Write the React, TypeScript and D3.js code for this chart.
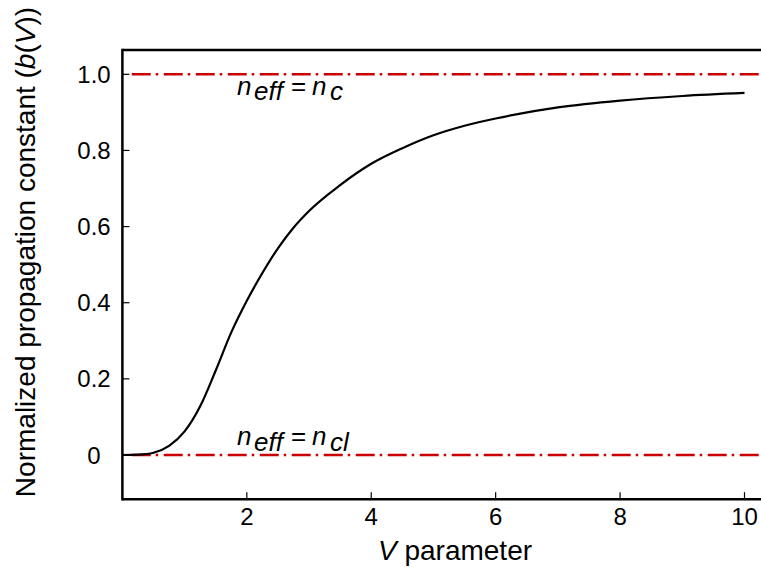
import React from "react";
import * as d3 from "d3";

// Fundamental-mode normalized propagation constant b versus V parameter
const vParam = [0, 0.25, 0.5, 0.75, 1.0, 1.25, 1.5, 1.75, 2.0, 2.25, 2.5, 2.75, 3.0, 3.5, 4.0, 4.5, 5.0, 5.5, 6.0, 7.0, 8.0, 9.0, 10.0];
const bValue = [0, 0.001, 0.006, 0.024, 0.062, 0.128, 0.222, 0.322, 0.405, 0.478, 0.543, 0.597, 0.641, 0.709, 0.765, 0.806, 0.84, 0.865, 0.884, 0.913, 0.931, 0.943, 0.951];

// Horizontal reference levels: core index (b = 1) and cladding index (b = 0)
const refLevels = [1, 0];
const refStartV = 0.15;

const xTicks = [2, 4, 6, 8, 10];
const yTicks = [0, 0.2, 0.4, 0.6, 0.8, 1.0];
const yTickLabels = ["0", "0.2", "0.4", "0.6", "0.8", "1.0"];

const W = 761;
const H = 567;
const FONT = "Arial, 'Liberation Sans', Helvetica, sans-serif";

export default function App() {
  const x = d3.scaleLinear().domain([0, 10]).range([122.4, 744.5]);
  const y = d3.scaleLinear().domain([0, 1]).range([455, 74.3]);

  const xMin = 0;
  const xMax = 10.5;
  const yMin = -0.116;
  const yMax = 1.064;

  const left = x(xMin);
  const right = x(xMax);
  const top = y(yMax);
  const bottom = y(yMin);

  const pts = vParam.map((v, i) => [v, bValue[i]] as [number, number]);
  const line = d3
    .line<[number, number]>()
    .x((d) => x(d[0]))
    .y((d) => y(d[1]))
    .curve(d3.curveMonotoneX);

  // label pieces: main "n", subscript, "=", "n", subscript
  const levelLabel = (baseY: number, sub: string, dy: number) => (
    <text y={baseY} fontSize={26} fontStyle="italic" fill="#000">
      <tspan x={237}>n</tspan>
      <tspan x={254} dy={dy}>eff</tspan>
      <tspan x={291} dy={-dy} fontStyle="normal">=</tspan>
      <tspan x={312}>n</tspan>
      <tspan x={330} dy={dy}>{sub}</tspan>
    </text>
  );

  return (
    <svg
      width={W}
      height={H}
      style={{ position: "fixed", left: 0, top: 0, background: "#fff" }}
      fontFamily={FONT}
    >
      <rect x={0} y={0} width={W} height={H} fill="#fff" />

      {/* reference levels */}
      {refLevels.map((lv) => (
        <line
          key={lv}
          x1={x(refStartV)}
          x2={right}
          y1={y(lv)}
          y2={y(lv)}
          stroke="#cc0000"
          strokeWidth={2.5}
          strokeDasharray="19 5 2.5 5.5"
        />
      ))}

      {/* b(V) curve */}
      <path d={line(pts) ?? ""} fill="none" stroke="#000" strokeWidth={2.2} strokeLinejoin="round" />

      {/* frame */}
      <line x1={left} x2={right} y1={top} y2={top} stroke="#000" strokeWidth={2.5} />
      <line x1={left} x2={right} y1={bottom} y2={bottom} stroke="#000" strokeWidth={2.5} />
      <line x1={left} x2={left} y1={top - 1.25} y2={bottom + 1.25} stroke="#000" strokeWidth={2.5} />

      {/* y ticks */}
      {yTicks.map((t, i) => (
        <g key={t}>
          <line x1={left} x2={left + 7} y1={y(t)} y2={y(t)} stroke="#000" strokeWidth={1.2} />
          <text x={94} y={y(t) + 8.6} fontSize={24} textAnchor="middle" fill="#000">
            {yTickLabels[i]}
          </text>
        </g>
      ))}

      {/* x ticks */}
      {xTicks.map((t) => (
        <g key={t}>
          <line x1={x(t)} x2={x(t)} y1={bottom} y2={bottom - 7} stroke="#000" strokeWidth={1.2} />
          <text x={x(t)} y={525} fontSize={24} textAnchor="middle" fill="#000">
            {t}
          </text>
        </g>
      ))}

      {/* level annotations */}
      {levelLabel(y(1) + 21, "c", 5)}
      {levelLabel(y(0) - 10, "cl", 6)}

      {/* axis titles */}
      <text x={455} y={560} fontSize={28} textAnchor="middle" fill="#000">
        <tspan fontStyle="italic">V</tspan> parameter
      </text>
      <text
        transform={`translate(35, 252) rotate(-90)`}
        fontSize={28}
        textAnchor="middle"
        fill="#000"
      >
        Normalized propagation constant (<tspan fontStyle="italic">b</tspan>(
        <tspan fontStyle="italic">V</tspan>))
      </text>
    </svg>
  );
}
